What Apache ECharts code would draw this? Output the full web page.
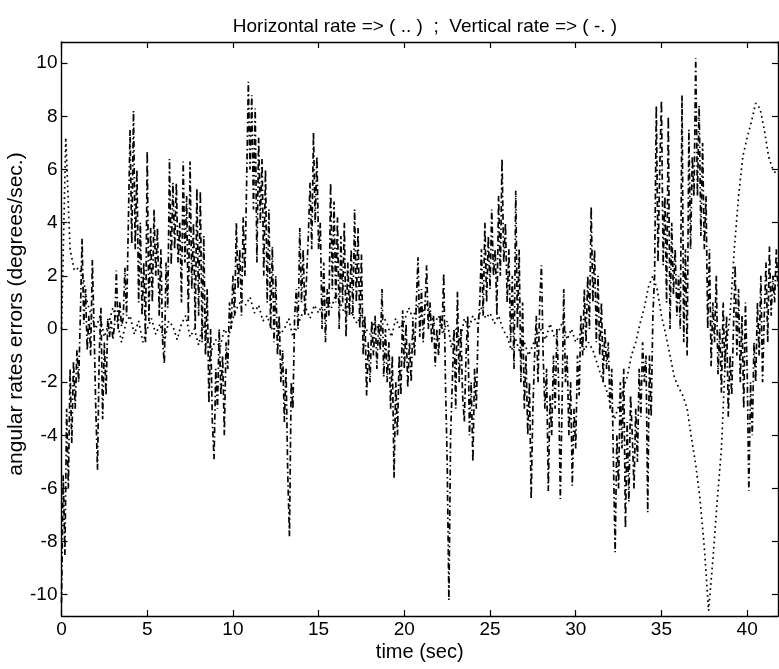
<!DOCTYPE html>
<html>
<head>
<meta charset="utf-8">
<script src="https://cdn.jsdelivr.net/npm/echarts@6/dist/echarts.min.js"></script>
<style>
html,body{margin:0;padding:0;background:#fff;}
#c{width:779px;height:669px;}
</style>
</head>
<body>
<div id="c"></div>
<script>
// ---- data ----
const titleText = "Horizontal rate => ( .. )  ;  Vertical rate => ( -. )";
const xName = "time (sec)";
const yName = "angular rates errors (degrees/sec.)";
const xMin = 0, xMax = 41.8;
const yMin = -10.8, yMax = 10.8;

// Horizontal rate (dotted), sampled every 0.25 s starting at t = 0
const horizStep = 0.25;
const horizontalRate = [
  0.0, 7.2, 3.0, 2.2,
  2.3, 2.0, 1.0, 0.5,
  0.0, 0.5, -0.3, 0.2,
  0.8, 0.3, -0.5, 0.2,
  0.5, -0.2, 0.3, -0.5,
  0.0, 0.4, -0.2, 0.2,
  -0.5, 0.3, 0.1, -0.4,
  0.2, 0.5, -0.3, 0.0,
  -0.6, 0.2, -0.5, -0.8,
  -0.4, -0.7, 0.0, -0.3,
  0.4, 0.8, 1.1, 0.9,
  1.2, 0.6, 0.9, 0.3,
  0.5, 0.0, 0.3, -0.2,
  0.0, 0.4, -0.3, 0.1,
  0.5, 0.8, 0.4, 0.9,
  0.6, 1.0, 1.2, 0.8,
  1.3, 1.0, 0.6, 0.9,
  0.5, 0.2, 0.6, 0.0,
  -0.2, 0.3, 0.0, 0.5,
  0.2, -0.3, 0.4, 0.0,
  0.3, 0.8, 0.4, 0.9,
  0.5, 1.0, 0.6, 0.2,
  0.5, -0.2, 0.3, -0.7,
  0.0, -0.5, 0.4, 0.0,
  0.5, 0.2, 0.8, 0.4,
  0.6, 0.2, 0.5, 0.0,
  -0.3, -0.8, -0.4, -0.9,
  -0.5, -1.0, -0.6, -0.2,
  0.0, -0.4, 0.2, -0.3,
  -0.1, 0.3, -0.4, 0.0,
  -0.5, -0.2, -0.8, -0.5,
  -0.8, -1.3, -1.8, -2.2,
  -2.8, -3.4, -2.9, -2.3,
  -1.8, -1.0, -0.5, 0.2,
  0.8, 1.6, 2.0, 1.5,
  0.5, -0.2, -1.0, -1.8,
  -2.2, -2.5, -3.0, -4.1,
  -5.1, -6.4, -8.2, -10.6,
  -8.7, -6.5, -4.5, -0.8,
  0.5, 3.0, 5.0, 6.5,
  7.2, 7.8, 8.5, 8.3,
  7.5, 6.5, 6.0, 5.8
];

// Vertical rate (dash-dot), sampled every 0.1 s starting at t = 0
const vertStep = 0.1;
const verticalRate = [
  -10.3, -5.5, -8.5, -3.0, -6.0, -1.5, -4.3, -1.2, -3.0, -0.8,
  -2.0, 0.5, 3.4, 0.2, 1.5, -0.8, 0.5, -1.0, 2.6, 0.0,
  -3.0, -5.3, -1.0, 0.8, -3.4, -0.5, -2.5, 0.4, -0.3, 0.3,
  -0.4, 0.2, 2.2, 0.0, 1.0, 0.1, 0.4, 2.3, 0.5, 4.0,
  7.5, 3.2, 8.2, 3.0, 6.0, 1.0, 4.0, 0.5, 2.5, -0.5,
  6.7, 0.3, 3.8, 1.0, 4.5, 2.0, 3.8, 0.5, 3.0, -0.5,
  -1.3, 2.5, 0.8, 6.4, 2.4, 5.5, 3.0, 5.5, 2.5, 4.0,
  1.0, 6.3, 2.5, 5.0, 0.3, 6.3, 1.5, 4.0, 0.0, 5.3,
  0.5, 5.2, -0.5, 3.5, -1.0, 1.5, -2.8, 0.0, -3.5, -4.9,
  -1.5, -3.0, 0.0, -2.5, -1.0, -4.0, -0.5, -1.5, 1.0, 0.0,
  2.0, 0.5, 4.0, 1.5, 3.0, 0.5, 4.2, 2.0, 5.5, 9.3,
  6.0, 8.8, 4.5, 8.3, 2.5, 7.2, 4.0, 6.4, 2.0, 6.0,
  1.0, 4.5, 0.0, 3.1, -0.5, 2.0, -1.0, 0.5, -2.0, -0.8,
  -3.5, -1.5, -5.5, -7.8, -2.0, -3.0, 0.5, 1.5, 0.0, 3.8,
  1.0, 3.0, 0.5, 2.0, 3.5, 5.5, 3.0, 7.4, 4.0, 6.5,
  3.0, 4.0, 0.0, 2.5, -0.5, 1.5, 0.5, 5.5, 1.5, 4.8,
  1.0, 4.2, 0.0, 3.5, 1.0, 4.0, -0.3, 2.5, 0.5, 3.0,
  0.5, 4.5, 1.0, 3.8, 0.0, 2.8, -1.0, 0.5, -2.5, -0.5,
  -2.0, 0.3, -1.0, 0.5, -1.5, 0.2, -0.8, 1.5, -1.8, 0.0,
  -2.0, -0.5, -3.0, -1.0, -5.6, -2.0, -4.0, -1.0, -2.5, 0.7,
  -1.5, 0.2, -2.2, -0.5, -2.0, 0.3, -1.0, 1.0, 2.7, -0.3,
  1.5, -0.5, 0.8, 2.4, 0.0, 1.0, -0.5, 0.5, -1.4, 0.0,
  -1.0, 0.5, 0.0, 2.1, -2.0, -5.0, -10.2, -4.0, -2.0, 0.0,
  -3.0, 1.4, -2.0, 0.0, -2.5, -3.5, -1.0, 0.5, -4.0, -2.0,
  -5.0, -1.5, -3.0, 0.0, 1.0, 3.0, 0.5, 4.0, 1.0, 3.5,
  1.5, 4.5, 2.0, 3.0, 0.5, 5.0, 2.0, 6.4, 2.5, 4.0,
  1.0, 3.0, -0.5, 2.0, -1.5, 5.2, 0.0, 3.0, -2.0, 1.0,
  -3.0, -1.0, -4.0, -2.0, -6.4, -3.0, -1.0, 0.5, -2.0, 1.0,
  2.4, -1.0, -3.0, -1.5, -6.1, -2.5, -4.0, -1.0, -3.0, 0.0,
  -2.0, -6.4, -3.0, 1.5, -2.0, -1.0, -4.0, -2.0, -5.9, -3.0,
  -4.5, -1.0, -2.5, 0.5, -1.0, 1.5, -0.5, 2.0, 0.0, 4.6,
  1.0, 3.0, -0.5, 2.0, -1.0, 1.0, -2.0, 0.0, -1.5, -0.5,
  -3.0, -1.5, -5.0, -8.4, -4.0, -6.0, -2.0, -4.5, -1.5, -7.5,
  -3.5, -6.5, -2.5, -4.0, -6.0, -3.0, -5.0, -1.5, -3.3, -0.5,
  -2.0, -1.0, -6.9, -1.0, -3.3, 0.5, 2.0, 8.4, 2.5, 6.0,
  8.6, 2.4, 5.0, 1.0, 8.0, 0.0, 4.0, 1.3, 3.0, 0.5,
  2.0, 0.0, 8.8, -0.5, 3.0, -1.0, 7.5, 3.0, 6.5, 5.0,
  10.2, 5.0, 8.4, 3.5, 7.0, 3.0, 5.0, 0.0, 3.0, -1.4,
  1.0, -0.5, 2.0, -1.7, 0.0, -2.4, 1.0, -1.5, 0.5, -3.3,
  -1.0, -2.5, 0.0, 2.4, -1.0, 1.5, -2.0, 0.5, -3.0, 1.0,
  -1.5, -6.1, -2.0, -4.0, -0.5, -2.0, 1.0, -1.0, 2.0, -2.0,
  0.5, 2.5, -0.5, 3.1, 0.5, 2.0, 1.0, 3.0, 1.5
];

function toPairs(vals, step) {
  return vals.map((v, i) => [Math.round(i * step * 1000) / 1000, v]);
}

const FONT = "Liberation Sans, Arial, Helvetica, sans-serif";
const chart = echarts.init(document.getElementById('c'), null, {renderer: 'canvas'});

const baseAxisLine = {show: true, onZero: false, lineStyle: {color: '#000', width: 1.4}};
const tickStyle = {show: true, inside: true, length: 6, lineStyle: {color: '#000', width: 1.2}};

chart.setOption({
  animation: false,
  backgroundColor: '#fff',
  title: {
    text: titleText,
    left: 420, top: 12, textAlign: 'center',
    textStyle: {fontFamily: FONT, fontSize: 19, fontWeight: 'normal', color: '#000'}
  },
  grid: {left: 61.5, right: 1, top: 42, bottom: 53, containLabel: false, outerBoundsMode: 'none'},
  xAxis: [{
    type: 'value', min: xMin, max: xMax, splitNumber: 8,
    name: xName, nameLocation: 'middle', nameGap: 26, nameMoveOverlap: false,
    nameTextStyle: {fontFamily: FONT, fontSize: 20, color: '#000'},
    axisLine: baseAxisLine, axisTick: tickStyle,
    axisLabel: {fontFamily: FONT, fontSize: 19, color: '#000', margin: 4, showMaxLabel: false},
    splitLine: {show: false}
  }, {
    type: 'value', position: 'top', min: xMin, max: xMax, splitNumber: 8,
    axisLine: baseAxisLine, axisTick: tickStyle,
    axisLabel: {show: false}, splitLine: {show: false}
  }],
  yAxis: [{
    type: 'value', min: yMin, max: yMax, splitNumber: 10,
    name: yName, nameLocation: 'middle', nameGap: 35, nameMoveOverlap: false,
    nameTextStyle: {fontFamily: FONT, fontSize: 21, color: '#000', padding: [0, 0, 0, 30]},
    axisLine: baseAxisLine, axisTick: tickStyle,
    axisLabel: {fontFamily: FONT, fontSize: 19, color: '#000', margin: 4, showMinLabel: false, showMaxLabel: false},
    splitLine: {show: false}
  }, {
    type: 'value', position: 'right', min: yMin, max: yMax, splitNumber: 10,
    axisLine: baseAxisLine, axisTick: tickStyle,
    axisLabel: {show: false}, splitLine: {show: false}
  }],
  series: [{
    name: 'Horizontal rate', type: 'line', data: toPairs(horizontalRate, horizStep),
    showSymbol: false, smooth: false,
    lineStyle: {color: '#000', width: 1.7, type: [1.7, 3.5]}
  }, {
    name: 'Vertical rate', type: 'line', data: toPairs(verticalRate, vertStep),
    showSymbol: false, smooth: false,
    lineStyle: {color: '#000', width: 1.7, type: [6, 3, 1.5, 3]}
  }]
});
</script>
</body>
</html>
